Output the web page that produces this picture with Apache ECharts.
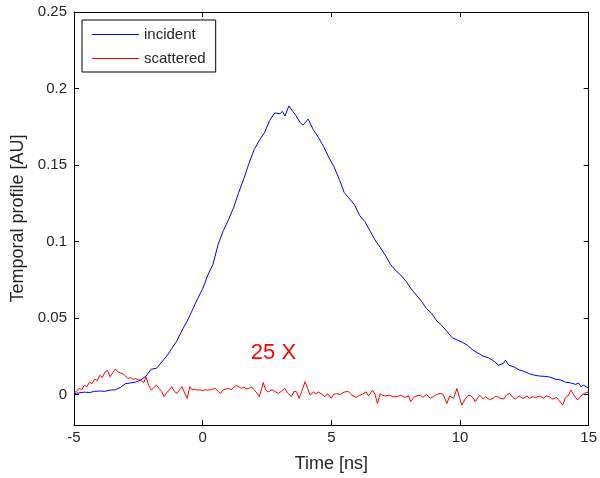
<!DOCTYPE html>
<html><head><meta charset="utf-8">
<script src="https://cdn.jsdelivr.net/npm/echarts@6/dist/echarts.min.js"></script>
<style>html,body{margin:0;padding:0;background:#fff}#c{width:600px;height:478px}</style>
</head><body><div id="c"></div>
<script>
const xTicks = [-5, 0, 5, 10, 15];
const yTicks = [0, 0.05, 0.1, 0.15, 0.2, 0.25];
const incidentT = [-5.0,-4.8,-4.6,-4.4,-4.2,-4.0,-3.8,-3.6,-3.4,-3.2,-3.0,-2.8,-2.6,-2.4,-2.2,-2.0,-1.8,-1.6,-1.4,-1.2,-1.0,-0.8,-0.6,-0.4,-0.2,0.0,0.2,0.4,0.6,0.8,1.0,1.2,1.4,1.6,1.8,2.0,2.2,2.4,2.6,2.8,3.0,3.1,3.2,3.35,3.5,3.6,3.8,3.9,4.1,4.3,4.5,4.7,4.9,5.1,5.3,5.5,5.7,5.9,6.1,6.3,6.5,6.7,6.9,7.1,7.3,7.5,7.7,7.9,8.1,8.3,8.5,8.7,8.9,9.1,9.3,9.5,9.7,9.9,10.1,10.3,10.5,10.7,10.9,11.1,11.3,11.5,11.7,11.77,11.9,12.1,12.3,12.5,12.7,12.9,13.1,13.3,13.5,13.7,13.9,14.1,14.3,14.5,14.6,14.7,14.8,15.0];
const incidentV = [0.0005,0.001,0.0015,0.0012,0.002,0.0022,0.002,0.0028,0.003,0.0045,0.007,0.0075,0.008,0.0095,0.012,0.0165,0.017,0.021,0.025,0.030,0.035,0.042,0.048,0.055,0.0625,0.069,0.078,0.085,0.098,0.107,0.114,0.122,0.132,0.141,0.151,0.160,0.166,0.171,0.179,0.184,0.1835,0.185,0.182,0.1886,0.185,0.183,0.1775,0.176,0.180,0.173,0.168,0.162,0.155,0.149,0.141,0.132,0.128,0.124,0.117,0.113,0.107,0.101,0.096,0.091,0.085,0.081,0.078,0.074,0.069,0.065,0.061,0.056,0.053,0.048,0.045,0.041,0.037,0.0355,0.034,0.032,0.029,0.027,0.025,0.024,0.022,0.019,0.0205,0.0224,0.019,0.018,0.016,0.015,0.0135,0.0125,0.012,0.0118,0.0113,0.010,0.0095,0.008,0.0075,0.0065,0.0075,0.005,0.006,0.004];
const scatteredT = [-5.0,-4.9,-4.8,-4.7,-4.6,-4.5,-4.4,-4.3,-4.2,-4.1,-4.0,-3.9,-3.8,-3.7,-3.6,-3.5,-3.4,-3.3,-3.2,-3.1,-3.0,-2.9,-2.8,-2.7,-2.6,-2.5,-2.4,-2.3,-2.2,-2.1,-2.0,-1.9,-1.8,-1.7,-1.6,-1.5,-1.4,-1.3,-1.2,-1.1,-1.0,-0.9,-0.8,-0.7,-0.6,-0.5,-0.4,-0.3,-0.2,-0.1,0.0,0.1,0.2,0.3,0.4,0.5,0.6,0.7,0.8,0.9,1.0,1.1,1.2,1.3,1.4,1.5,1.6,1.7,1.8,1.9,2.0,2.1,2.2,2.3,2.35,2.45,2.55,2.7,2.8,2.95,3.05,3.2,3.3,3.45,3.55,3.65,3.75,3.85,3.98,4.08,4.17,4.3,4.4,4.5,4.6,4.75,4.85,5.0,5.1,5.2,5.35,5.5,5.65,5.8,5.97,6.1,6.2,6.35,6.45,6.6,6.7,6.79,6.9,6.98,7.1,7.25,7.4,7.56,7.7,7.85,8.0,8.08,8.2,8.3,8.46,8.55,8.7,8.85,9.0,9.1,9.23,9.35,9.49,9.6,9.75,9.88,9.98,10.07,10.2,10.3,10.39,10.5,10.59,10.7,10.77,10.9,11.0,11.15,11.29,11.4,11.55,11.7,11.8,11.93,12.05,12.15,12.3,12.45,12.6,12.7,12.83,12.95,13.1,13.25,13.35,13.47,13.6,13.75,13.85,13.99,14.1,14.2,14.31,14.45,14.57,14.7,14.83,15.0];
const scatteredV = [0.001,0.002,0.004,0.003,0.006,0.005,0.008,0.007,0.010,0.009,0.0125,0.011,0.0145,0.0158,0.0115,0.014,0.0165,0.015,0.014,0.0135,0.012,0.0105,0.011,0.0098,0.0104,0.0095,0.0093,0.0075,0.0115,0.006,0.0028,0.0045,0.006,0.004,0.002,-0.0015,0.001,0.003,0.005,0.002,0.0007,0.003,0.005,0.001,-0.0026,0.005,0.003,0.0035,0.0028,0.003,0.0025,0.003,0.0028,0.003,0.0035,0.0039,0.002,0.0007,0.003,0.0035,0.0039,0.003,0.0045,0.006,0.005,0.004,0.0048,0.0035,0.004,0.005,0.003,0.001,-0.0015,0.004,0.0078,0.003,0.0017,0.003,0.002,0.0007,0.002,0.0039,0.001,-0.0015,0.002,0.0017,-0.0026,0.002,0.0083,0.004,-0.0005,0.0015,0.0005,0.0015,0.0005,-0.0015,0.0005,-0.0026,0.0002,0.0005,0.0,0.0015,0.002,-0.0005,-0.002,-0.0005,0.0,0.0017,-0.001,0.0028,0.0,-0.0059,0.0005,-0.0005,-0.001,-0.0005,-0.0015,-0.0015,-0.0005,-0.002,-0.001,-0.0048,-0.002,-0.001,-0.0005,-0.002,0.0,-0.0026,-0.001,0.0,0.0007,0.0,-0.0059,-0.001,-0.0026,0.0039,-0.002,-0.007,-0.003,-0.001,-0.0005,-0.002,-0.0048,-0.002,-0.0005,-0.003,-0.0015,-0.0035,-0.0026,-0.001,-0.0025,-0.003,-0.0005,0.0007,-0.002,-0.003,-0.001,-0.0026,-0.001,-0.0025,-0.0015,-0.002,-0.001,-0.0025,-0.001,-0.0015,-0.003,-0.002,-0.004,-0.007,-0.002,-0.001,0.0028,-0.001,-0.0037,-0.001,0.0007,0.0017];
const seriesNames = ['incident', 'scattered'];
const annotationText = '25 X';
const annotationAt = [2.75, 0.0274];

const FONT = '"Liberation Sans", Arial, sans-serif';
const TXT = '#262626';
const zip = (a, b) => a.map((t, i) => [t, b[i]]);
const chart = echarts.init(document.getElementById('c'), null, {renderer: 'canvas'});
const line = {show: true, onZero: false, lineStyle: {color: '#000', width: 1}};
const tick = (cv) => ({show: true, inside: true, length: 5, lineStyle: {color: '#000'}, customValues: cv});
chart.setOption({
  animation: false,
  backgroundColor: '#fff',
  grid: {left: 74, right: 7, top: 12, bottom: 51, containLabel: false},
  legend: {
    orient: 'vertical', left: 82, top: 20,
    backgroundColor: '#fff', borderColor: '#000', borderWidth: 1,
    padding: [7, 10, 6, 10], itemGap: 9, itemWidth: 47, itemHeight: 1, icon: 'rect',
    textStyle: {fontFamily: FONT, fontSize: 15, color: TXT, padding: [0, 0, 0, 0]},
    data: seriesNames
  },
  xAxis: [
    {type: 'value', min: -5, max: 15, interval: 5, position: 'bottom',
      name: 'Time [ns]', nameLocation: 'middle', nameGap: 30,
      nameTextStyle: {fontFamily: FONT, fontSize: 18, color: TXT},
      axisLine: line, axisTick: tick(xTicks), splitLine: {show: false},
      axisLabel: {fontFamily: FONT, fontSize: 15, color: TXT, margin: 5, customValues: xTicks}},
    {type: 'value', min: -5, max: 15, interval: 5, position: 'top',
      axisLine: line, axisTick: tick(xTicks), splitLine: {show: false},
      axisLabel: {show: false}}
  ],
  yAxis: [
    {type: 'value', min: -0.02, max: 0.25, position: 'left',
      name: 'Temporal profile [AU]', nameLocation: 'middle', nameGap: 43, nameRotate: 90,
      nameTextStyle: {fontFamily: FONT, fontSize: 18, color: TXT},
      axisLine: line, axisTick: tick(yTicks), splitLine: {show: false},
      axisLabel: {fontFamily: FONT, fontSize: 15, color: TXT, margin: 7, customValues: yTicks}},
    {type: 'value', min: -0.02, max: 0.25, position: 'right',
      axisLine: line, axisTick: tick(yTicks), splitLine: {show: false},
      axisLabel: {show: false, customValues: yTicks}}
  ],
  series: [
    {name: seriesNames[0], type: 'line', data: zip(incidentT, incidentV), showSymbol: false, symbol: 'none',
      lineStyle: {color: '#0000ff', width: 1}, itemStyle: {color: '#0000ff'}},
    {name: seriesNames[1], type: 'line', data: zip(scatteredT, scatteredV), showSymbol: false, symbol: 'none',
      lineStyle: {color: '#ff0000', width: 1}, itemStyle: {color: '#ff0000'}}
  ]
});
const p = chart.convertToPixel({xAxisIndex: 0, yAxisIndex: 0}, annotationAt);
chart.setOption({
  graphic: [{type: 'text', x: p[0], y: p[1],
    style: {text: annotationText, fill: '#ff0000', font: '22px ' + FONT, textAlign: 'center', textVerticalAlign: 'middle'}}]
});
</script></body></html>
